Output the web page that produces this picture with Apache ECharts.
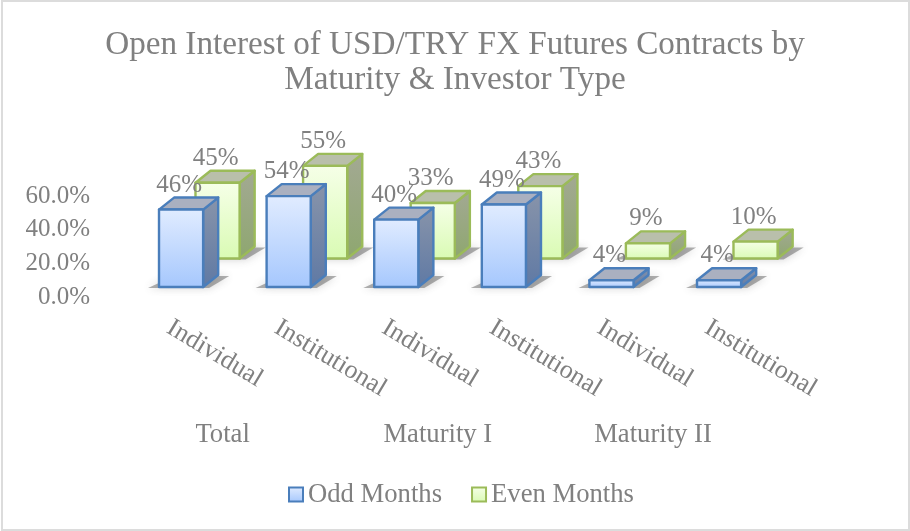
<!DOCTYPE html>
<html><head><meta charset="utf-8">
<style>html,body{margin:0;padding:0;background:#fff}#c{width:910px;height:531px}</style>
<script src="https://cdn.jsdelivr.net/npm/echarts@6/dist/echarts.min.js"></script>
</head><body><div id="c"></div>
<script>
const titleText = 'Open Interest of USD/TRY FX Futures Contracts by\nMaturity & Investor Type';
const investorTypes = ['Individual','Institutional','Individual','Institutional','Individual','Institutional'];
const maturities = ['Total','Maturity I','Maturity II'];
const oddMonths = [46,54,40,49,4,4];
const evenMonths = [45,55,33,43,9,10];
const serif = '"Liberation Serif","Times New Roman",serif';
const grey = '#808080';
const chart = echarts.init(document.getElementById('c'));
const grad = (a,b)=>new echarts.graphic.LinearGradient(0,0,0,1,[{offset:0,color:a},{offset:1,color:b}]);
const skins = {
  odd:{front:grad('#e1ecff','#a5c7fd'),side:grad('#8894aa','#5f79a4'),top:'#aab0c0',line:'#4a7ebb'},
  even:{front:grad('#f6ffe8','#d9fbb3'),side:grad('#a3a993','#8ea76f'),top:'#b9bfab',line:'#9bbb59'}
};
function bar3d(skin,xShiftRatio,yShift){
  return function(params,api){
    const v=api.value(1), p=api.coord([api.value(0),v]), p0=api.coord([api.value(0),0]);
    const band=api.size([1,0])[0];
    const w=band*0.41, dx=band*0.14, dy=12;
    const x=p0[0]+band*xShiftRatio, x2=x+w, yb=p0[1]+yShift, yt=p[1]+yShift;
    const poly=(pts,fill)=>({type:'polygon',shape:{points:pts},style:{fill,stroke:skin.line,lineWidth:2.4,lineJoin:'round'}});
    return {type:'group',children:[
      {type:'polygon',shape:{points:[[x-11,yb+1],[x2+6,yb+1],[x2+dx+11,yb-dy+1],[x+dx,yb-dy+1]]},
       style:{fill:'rgba(70,70,70,0.42)',shadowBlur:8,shadowColor:'rgba(70,70,70,0.6)'}},
      poly([[x2,yt],[x2+dx,yt-dy],[x2+dx,yb-dy],[x2,yb]],skin.side),
      poly([[x,yt],[x+dx,yt-dy],[x2+dx,yt-dy],[x2,yt]],skin.top),
      poly([[x,yt],[x2,yt],[x2,yb],[x,yb]],skin.front),
      {type:'text',style:{text:Math.round(v)+'%',x:x+w/2-2,y:yt-dy-12.5,align:'center',verticalAlign:'middle',fill:grey,font:'25px '+serif}}
    ]};
  };
}
const legendStyle=(s)=>({color:new echarts.graphic.LinearGradient(0,0,0,1,[{offset:0,color:s.front.colorStops[0].color},{offset:1,color:s.front.colorStops[1].color}]),borderColor:s.line,borderWidth:2});
chart.setOption({
  animation:false,
  backgroundColor:'#fff',
  title:{text:titleText,left:'center',top:23,textStyle:{fontFamily:serif,fontSize:33.2,fontWeight:'normal',color:grey,lineHeight:35}},
  grid:{left:115,right:149.4,top:196,bottom:234,outerBoundsMode:'none'},
  legend:{data:[{name:'Odd Months',itemStyle:legendStyle(skins.odd)},{name:'Even Months',itemStyle:legendStyle(skins.even)}],
    icon:'rect',left:288,top:481,padding:0,itemWidth:14,itemHeight:14,itemGap:29,
    textStyle:{fontFamily:serif,fontSize:26.67,color:grey}},
  xAxis:[
    {type:'category',data:investorTypes,axisLine:{show:false},axisTick:{show:false},
      axisLabel:{interval:0,rotate:-31,margin:29,fontFamily:serif,fontSize:26,color:grey}},
    {type:'category',data:maturities,position:'bottom',axisLine:{show:false},axisTick:{show:false},
      axisLabel:{interval:0,margin:124,fontFamily:serif,fontSize:26.67,color:grey}}
  ],
  yAxis:{type:'value',min:0,max:60,interval:20,axisLine:{show:false},axisTick:{show:false},splitLine:{show:false},
    axisLabel:{margin:25,fontFamily:serif,fontSize:25,color:grey,formatter:v=>v.toFixed(1)+'%'}},
  series:[
    {name:'Even Months',type:'custom',renderItem:bar3d(skins.even,0.248,-38.5),encode:{x:0,y:1},itemStyle:legendStyle(skins.even),data:evenMonths.map((v,i)=>[i,v]),z:2},
    {name:'Odd Months',type:'custom',renderItem:bar3d(skins.odd,-0.091,-10),encode:{x:0,y:1},itemStyle:legendStyle(skins.odd),data:oddMonths.map((v,i)=>[i,v]),z:3}
  ],
  graphic:[{type:'rect',shape:{x:2,y:1,width:907,height:529},style:{fill:'none',stroke:'#dcdcdc',lineWidth:2},silent:true,z:-1}]
});
</script></body></html>
